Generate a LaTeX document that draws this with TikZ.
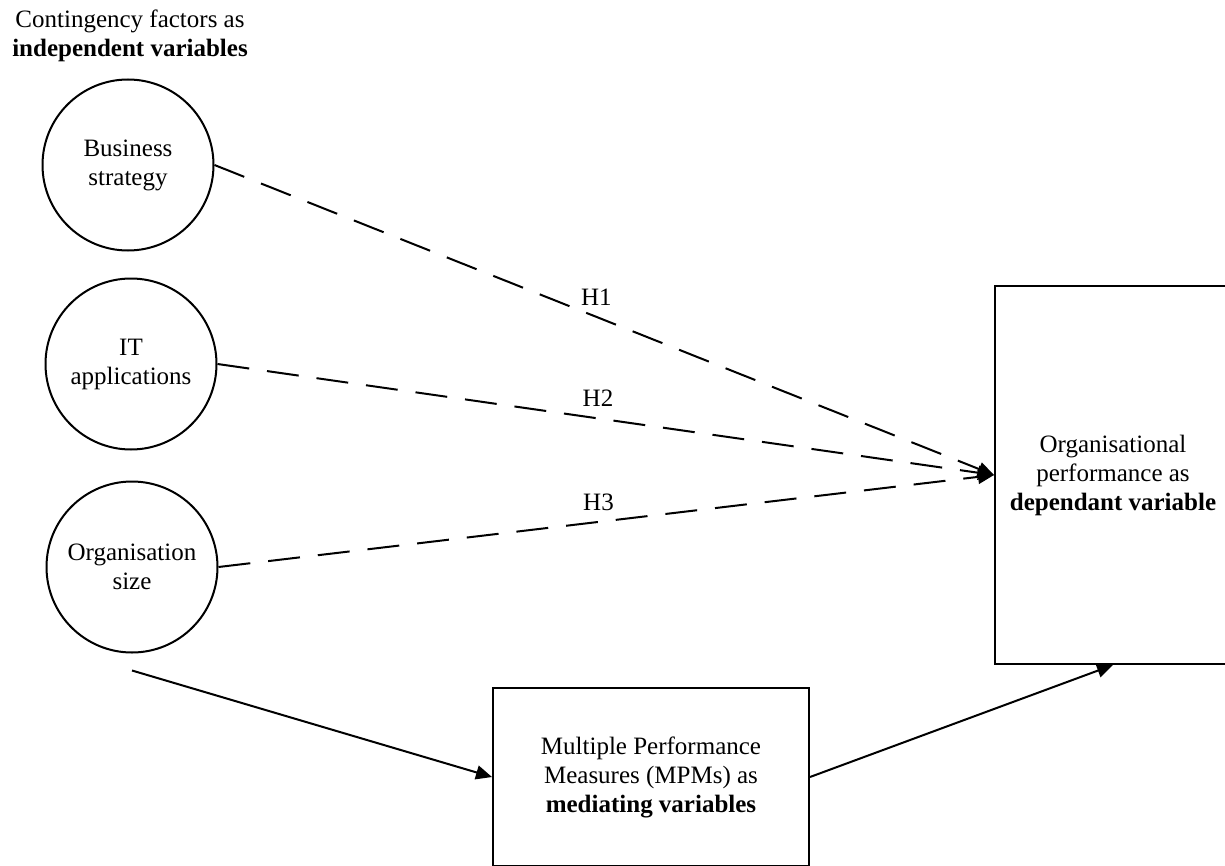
\documentclass[tikz,border=0pt]{standalone}
\usepackage{fontspec}
\setmainfont{Liberation Serif}
\usetikzlibrary{arrows.meta}

\begin{document}
\begin{tikzpicture}[x=0.5pt,y=-0.5pt,
	every node/.style={font=\fontsize{12.5}{14.5}\selectfont, align=center},
	factor/.style={draw, circle, line width=1pt, minimum size=85.5pt, inner sep=0pt},
	varbox/.style={draw, rectangle, line width=1pt, inner sep=0pt},
	hyp/.style={-{Triangle[length=8pt,width=7pt]}, line width=1pt, dash pattern=on 16pt off 9pt},
	link/.style={-{Triangle[length=8pt,width=7pt]}, line width=1pt}]
	\useasboundingbox (0,0) rectangle (1225,866);
	\clip (0,0) rectangle (1225,865);
	% contingency factors
	\node (title) at (130,36) {Contingency factors as\\\textbf{independent variables}};
	\node[factor] (bs) at (128,165) {Business\\strategy};
	\node[factor] (it) at (131,364) {IT\\applications};
	\node[factor] (os) at (132,567) {Organisation\\size};
	% dependant and mediating variables
	\node[varbox, minimum width=118pt, minimum height=189pt] (op) at (1113,475) {Organisational\\performance as\\\textbf{dependant variable}};
	\node[varbox, minimum width=158pt, minimum height=89pt] (mpm) at (651,777) {Multiple Performance\\Measures (MPMs) as\\\textbf{mediating variables}};
	% hypotheses
	\draw[hyp] (bs.east) -- (op.west) node[pos=0.49, above=2pt]{H1};
	\draw[hyp] (it.east) -- (op.west) node[pos=0.49, above=2pt]{H2};
	\draw[hyp] (os.east) -- (op.west) node[pos=0.49, above=2pt]{H3};
	\draw[link] ([yshift=-8.5pt]os.south) -- (mpm.west);
	\draw[link] (mpm.east) -- (op.south);
\end{tikzpicture}
\end{document}
